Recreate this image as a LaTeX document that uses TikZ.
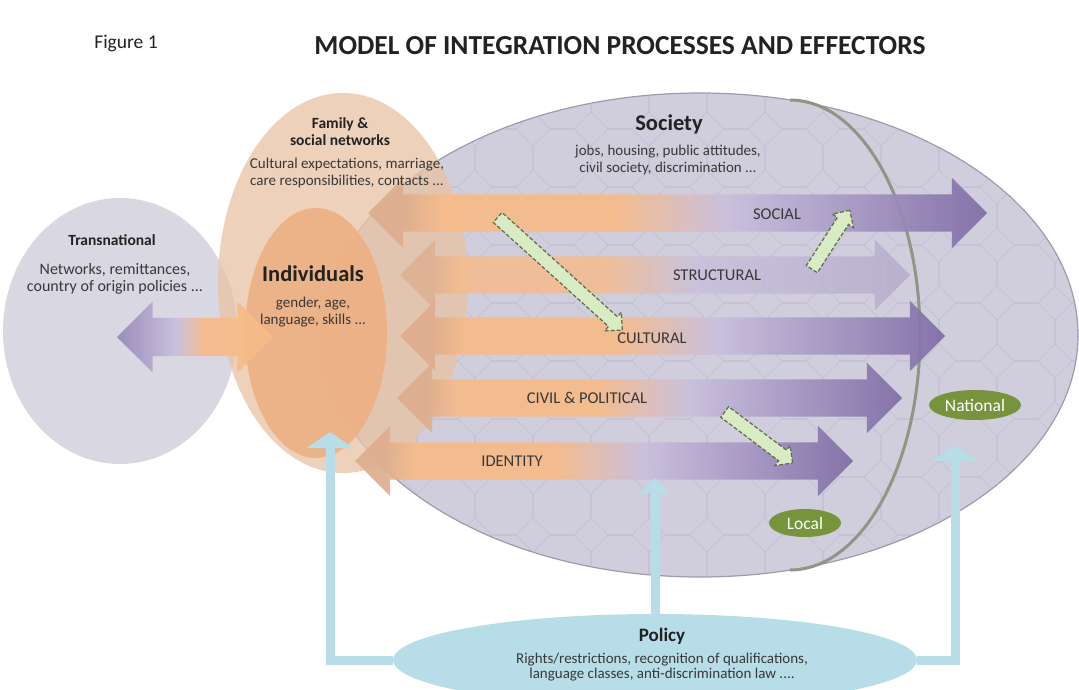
\documentclass[tikz,border=0pt]{standalone}
\usepackage{fontspec}
\setmainfont{Carlito}
\usepackage{xcolor}
\usepackage{tikz}
\usetikzlibrary{shapes.geometric, shapes.arrows, arrows.meta, positioning, calc}

\definecolor{peach}{HTML}{F7BB89}
\definecolor{dullpeach}{HTML}{DDAE8E}
\definecolor{lilac}{HTML}{C9BFDD}
\definecolor{violet}{HTML}{7F6CA6}
\definecolor{midviolet}{HTML}{9586B8}
\definecolor{paleviolet}{HTML}{B4AACB}
\definecolor{societyfill}{HTML}{D0CDDC}
\definecolor{societyline}{HTML}{9E9AAE}
\definecolor{tileline}{HTML}{C2BED1}
\definecolor{abroadfill}{HTML}{D9D7E2}
\definecolor{familyfill}{HTML}{E8C4A6}
\definecolor{personfill}{HTML}{EDB084}
\definecolor{policyfill}{HTML}{B7DDE8}
\definecolor{levelgreen}{HTML}{77933C}
\definecolor{linkgreen}{HTML}{D8EBC3}
\definecolor{linkline}{HTML}{5E6B4E}
\definecolor{borderline}{HTML}{8F9686}
\definecolor{ink}{HTML}{222222}

% flows run peach -> lilac -> violet, the back heads a little dull
\pgfdeclarehorizontalshading{flowshade}{100bp}{color(0bp)=(dullpeach); color(25bp)=(dullpeach); color(28bp)=(dullpeach); color(31bp)=(peach); color(45bp)=(peach); color(54bp)=(lilac); color(75bp)=(violet); color(100bp)=(violet)}
\pgfdeclarehorizontalshading{paleshade}{100bp}{color(0bp)=(dullpeach); color(25bp)=(dullpeach); color(28bp)=(dullpeach); color(31bp)=(peach); color(45bp)=(peach); color(54bp)=(lilac); color(75bp)=(paleviolet); color(100bp)=(paleviolet)}
\pgfdeclarehorizontalshading{backshade}{100bp}{color(0bp)=(midviolet); color(25bp)=(midviolet); color(44bp)=(lilac); color(53bp)=(peach); color(100bp)=(peach)}

\begin{document}
\begin{tikzpicture}[x=1pt, y=-1pt,
  zone/.style={ellipse, inner sep=0pt},
  flow/.style={double arrow, shade, shading=flowshade, inner sep=0pt, inner ysep=18.5pt, double arrow head extend=16.5pt, double arrow tip angle=90, fill opacity=0.92},
  flowlabel/.style={font=\fontsize{16.5}{18}\selectfont, text=ink!90},
  link/.style={single arrow, draw=linkline, fill=linkgreen, dash pattern=on 4pt off 2pt, line width=1.2pt, inner sep=0pt, inner ysep=6pt, single arrow head extend=6pt, single arrow tip angle=90},
  level/.style={ellipse, fill=levelgreen, text=white, inner sep=0pt, font=\fontsize{17.5}{19}\selectfont},
  feed/.style={draw=policyfill, line width=9pt, -{Triangle[length=16pt, width=46pt]}},
  head/.style={font=\bfseries\fontsize{15.5}{17}\selectfont, text=ink, align=center},
  bighead/.style={font=\bfseries\fontsize{22.5}{24}\selectfont, text=ink},
  body/.style={font=\fontsize{15}{16.5}\selectfont, text=ink!90, align=center},
  tile/.style={draw=tileline, line width=0.6pt}
]
  \clip (0,0) rectangle (1079,690);

  % circles of the model
  \node[zone, fill=abroadfill, minimum width=234, minimum height=266] (abroad) at (120,331) {};
  \node[zone, fill=societyfill, draw=societyline, line width=1.2pt, minimum width=756, minimum height=484] (society) at (700,335) {};

  % tiled texture inside society
  \begin{scope}
    \clip (society.center) ellipse [x radius=377, y radius=241];
    \foreach \i in {0,...,13}
      \foreach \j in {0,...,8}
        \draw[tile] (330+\i*58, 100+\j*58) +(22.5:31.4)
          \foreach \k in {1,...,7} { -- +(22.5+\k*45:31.4) } -- cycle;
  \end{scope}

  % local / national boundary
  \begin{scope}
    \clip (790,0) rectangle (1079,690);
    \draw[borderline, line width=3pt] (790,335) ellipse [x radius=130, y radius=235];
  \end{scope}

  \node[zone, fill=familyfill, fill opacity=0.78, minimum width=250, minimum height=380] (family) at (343,283) {};
  \node[zone, fill=personfill, fill opacity=0.92, minimum width=142, minimum height=250] (person) at (316,333) {};

  % integration flows
  \node[flow, minimum height=619] (social) at (677.5,213) {};
  \node[flow, shading=paleshade, fill opacity=0.8, minimum height=510] (structural) at (655,275) {};
  \node[flow, minimum height=545] (cultural) at (672.5,336) {};
  \node[flow, minimum height=505] (civil) at (649.5,398) {};
  \node[flow, minimum height=498] (identity) at (604,461) {};
  \node[flow, shading=backshade, inner ysep=19pt, minimum height=156] (crossborder) at (195,337) {};

  \node[flowlabel] (lsocial) at (777,214) {SOCIAL};
  \node[flowlabel] (lstructural) at (717,275) {STRUCTURAL};
  \node[flowlabel] (lcultural) at (652,338) {CULTURAL};
  \node[flowlabel] (lcivil) at (587,398) {CIVIL \& POLITICAL};
  \node[flowlabel] (lidentity) at (512,461) {IDENTITY};

  % spill-overs between dimensions
  \node[link, rotate=-42.1, minimum height=168] (spill1) at (557.5,271.5) {};
  \node[link, rotate=57.2, minimum height=70] (spill2) at (829,242.5) {};
  \node[link, rotate=-36.9, minimum height=85] (spill3) at (756,435.5) {};

  \node[level, minimum width=72, minimum height=28] (local) at (805,523) {Local};
  \node[level, minimum width=92, minimum height=30] (national) at (975,405) {National};

  % policy and its feeds
  \node[zone, fill=policyfill, minimum width=524, minimum height=92] (policy) at (655,660) {};
  \coordinate (personfeed) at (330,432);
  \coordinate (societyfeed) at (655,478);
  \coordinate (nationalfeed) at (955,445);
  \draw[feed] (policy.west) -| (personfeed);
  \draw[feed, -{Triangle[length=15pt, width=30pt]}] (policy.north) -- (societyfeed);
  \draw[feed] (policy.east) -| (nationalfeed);

  % texts
  \node[font=\fontsize{19.5}{21}\selectfont, text=ink] (figno) at (126,43) {Figure 1};
  \node[font=\bfseries\fontsize{27.5}{29}\selectfont, text=ink] (title) at (620,46) {MODEL OF INTEGRATION PROCESSES AND EFFECTORS};

  \node[head] (abroadtitle) at (112,240) {Transnational};
  \node[body, font=\fontsize{16}{17}\selectfont] (abroadtext) at (115,279) {Networks, remittances,\\country of origin policies ...};

  \node[head] (familytitle) at (340,132) {Family \&\\social networks};
  \node[body] (familytext) at (347,173) {Cultural expectations, marriage,\\care responsibilities, contacts ...};

  \node[bighead] (societytitle) at (669,124) {Society};
  \node[body] (societytext) at (668,160) {jobs, housing, public attitudes,\\civil society, discrimination ...};

  \node[bighead] (persontitle) at (313,274) {Individuals};
  \node[body] (persontext) at (313,312) {gender, age,\\language, skills ...};

  \node[font=\bfseries\fontsize{19}{21}\selectfont, text=ink] (policytitle) at (662,636) {Policy};
  \node[body, font=\fontsize{15}{15}\selectfont] (policytext) at (662,667) {Rights/restrictions, recognition of qualifications,\\language classes, anti-discrimination law ....};
\end{tikzpicture}
\end{document}
